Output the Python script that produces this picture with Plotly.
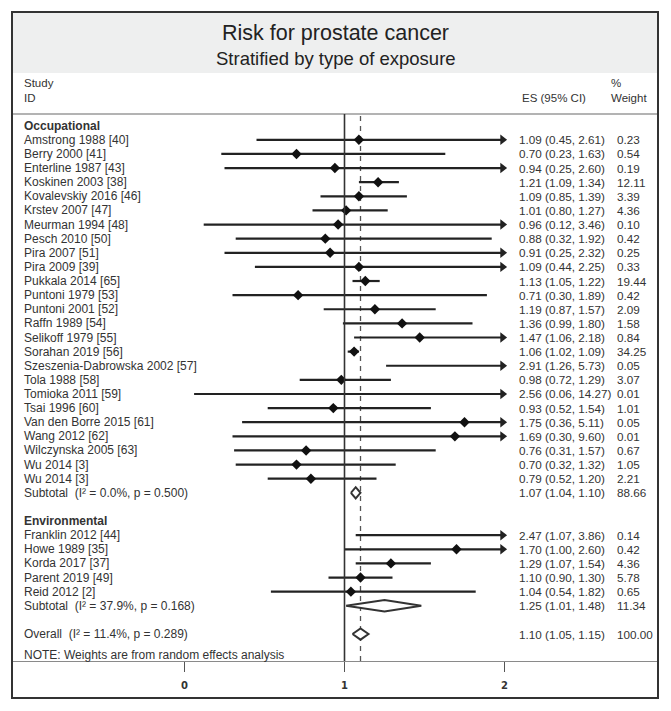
import plotly.graph_objects as go

# ---------------- data ----------------
title_main = "Risk for prostate cancer"
title_sub = "Stratified by type of exposure"

occ_studies = ["Amstrong 1988 [40]", "Berry 2000 [41]", "Enterline 1987 [43]", "Koskinen 2003 [38]",
               "Kovalevskiy 2016 [46]", "Krstev 2007 [47]", "Meurman 1994 [48]", "Pesch 2010 [50]",
               "Pira 2007 [51]", "Pira 2009 [39]", "Pukkala 2014 [65]", "Puntoni 1979 [53]",
               "Puntoni 2001 [52]", "Raffn 1989 [54]", "Selikoff 1979 [55]", "Sorahan 2019 [56]",
               "Szeszenia-Dabrowska 2002 [57]", "Tola 1988 [58]", "Tomioka 2011 [59]", "Tsai 1996 [60]",
               "Van den Borre 2015 [61]", "Wang 2012 [62]", "Wilczynska 2005 [63]", "Wu 2014 [3]", "Wu 2014 [3]"]
occ_es = [1.09, 0.70, 0.94, 1.21, 1.09, 1.01, 0.96, 0.88, 0.91, 1.09, 1.13, 0.71, 1.19, 1.36, 1.47,
          1.06, 2.91, 0.98, 2.56, 0.93, 1.75, 1.69, 0.76, 0.70, 0.79]
occ_lo = [0.45, 0.23, 0.25, 1.09, 0.85, 0.80, 0.12, 0.32, 0.25, 0.44, 1.05, 0.30, 0.87, 0.99, 1.06,
          1.02, 1.26, 0.72, 0.06, 0.52, 0.36, 0.30, 0.31, 0.32, 0.52]
occ_hi = [2.61, 1.63, 2.60, 1.34, 1.39, 1.27, 3.46, 1.92, 2.32, 2.25, 1.22, 1.89, 1.57, 1.80, 2.18,
          1.09, 5.73, 1.29, 14.27, 1.54, 5.11, 9.60, 1.57, 1.32, 1.20]
occ_w = [0.23, 0.54, 0.19, 12.11, 3.39, 4.36, 0.10, 0.42, 0.25, 0.33, 19.44, 0.42, 2.09, 1.58, 0.84,
         34.25, 0.05, 3.07, 0.01, 1.01, 0.05, 0.01, 0.67, 1.05, 2.21]
occ_sub = dict(es=1.07, lo=1.04, hi=1.10, w=88.66, i2="0.0%", p="0.500")

env_studies = ["Franklin 2012 [44]", "Howe 1989 [35]", "Korda 2017 [37]", "Parent 2019 [49]", "Reid 2012 [2]"]
env_es = [2.47, 1.70, 1.29, 1.10, 1.04]
env_lo = [1.07, 1.00, 1.07, 0.90, 0.54]
env_hi = [3.86, 2.60, 1.54, 1.30, 1.82]
env_w = [0.14, 0.42, 4.36, 5.78, 0.65]
env_sub = dict(es=1.25, lo=1.01, hi=1.48, w=11.34, i2="37.9%", p="0.168")

overall = dict(es=1.10, lo=1.05, hi=1.15, w=100.00, i2="11.4%", p="0.289")

x_ticks = [0, 1, 2]
x_tick_labels = ["0", "1", "2"]
axis_max = 2.0
note_text = "NOTE: Weights are from random effects analysis"

# ---------------- layout helpers ----------------
W, H = 671, 711
ML, MR, MT, MB = 12, 13, 114, 50
PW, PH = W - ML - MR, H - MT - MB
X0_PX, PX_PER_UNIT = 184.5, 160.0
xr = [(ML - X0_PX) / PX_PER_UNIT, (W - MR - X0_PX) / PX_PER_UNIT]
ROW0_PX, ROW_PX = 125.7, 14.12
yr = [(H - MB - ROW0_PX) / ROW_PX, (MT - ROW0_PX) / ROW_PX]


def px_x(px):
    return (px - ML) / PW


def px_y(py):
    return (H - MB - py) / PH


FONT = "Liberation Sans, Arial, sans-serif"
TXT = "#333333"
NBSP = "\u00a0"

# rows
rows = []  # (row, label, es, lo, hi, w, kind)
r = 0
rows.append((r, "<b>Occupational</b>", None, None, None, None, "head"))
for i, s in enumerate(occ_studies):
    r += 1
    rows.append((r, s, occ_es[i], occ_lo[i], occ_hi[i], occ_w[i], "study"))
r += 1
rows.append((r, f"Subtotal{NBSP}{NBSP}(I² = {occ_sub['i2']}, p = {occ_sub['p']})",
             occ_sub['es'], occ_sub['lo'], occ_sub['hi'], occ_sub['w'], "sub"))
r += 2
rows.append((r, "<b>Environmental</b>", None, None, None, None, "head"))
for i, s in enumerate(env_studies):
    r += 1
    rows.append((r, s, env_es[i], env_lo[i], env_hi[i], env_w[i], "study"))
r += 1
rows.append((r, f"Subtotal{NBSP}{NBSP}(I² = {env_sub['i2']}, p = {env_sub['p']})",
             env_sub['es'], env_sub['lo'], env_sub['hi'], env_sub['w'], "sub"))
r += 2
rows.append((r, f"Overall{NBSP}{NBSP}(I² = {overall['i2']}, p = {overall['p']})",
             overall['es'], overall['lo'], overall['hi'], overall['w'], "sub"))
note_row = r + 1.5

fig = go.Figure()

# CI lines
lx, ly = [], []
mx, my = [], []
ax_, ay_ = [], []
for (rr, lab, es, lo, hi, w, kind) in rows:
    if kind != "study":
        continue
    lx += [lo, min(hi, axis_max), None]
    ly += [rr, rr, None]
    if es <= axis_max:
        mx.append(es)
        my.append(rr)
    if hi > axis_max:
        ax_.append(axis_max - 0.012)
        ay_.append(rr)

fig.add_trace(go.Scatter(x=lx, y=ly, mode="lines", line=dict(color="#222222", width=2.2),
                         hoverinfo="skip"))
fig.add_trace(go.Scatter(x=ax_, y=ay_, mode="markers",
                         marker=dict(symbol="triangle-right", size=9, color="#222222"),
                         hoverinfo="skip"))
fig.add_trace(go.Scatter(x=mx, y=my, mode="markers",
                         marker=dict(symbol="diamond", size=8, color="#111111"),
                         hoverinfo="skip"))

# pooled diamonds
for (rr, lab, es, lo, hi, w, kind) in rows:
    if kind != "sub":
        continue
    h = 0.4
    fig.add_trace(go.Scatter(x=[lo, es, hi, es, lo], y=[rr, rr - h, rr, rr + h, rr],
                             mode="lines", fill="toself", fillcolor="white",
                             line=dict(color="#333333", width=2), hoverinfo="skip"))

# text annotations
ann = []
for (rr, lab, es, lo, hi, w, kind) in rows:
    ann.append(dict(x=px_x(22), y=rr, xref="paper", yref="y", text=lab, showarrow=False,
                    xanchor="left", yanchor="middle", font=dict(size=12, color=TXT, family=FONT)))
    if es is not None:
        ann.append(dict(x=px_x(516.5), y=rr, xref="paper", yref="y",
                        text=f"{es:.2f} ({lo:.2f}, {hi:.2f})", showarrow=False,
                        xanchor="left", yanchor="middle", font=dict(size=11.7, color=TXT, family=FONT)))
        ann.append(dict(x=px_x(615), y=rr, xref="paper", yref="y", text=f"{w:.2f}", showarrow=False,
                        xanchor="left", yanchor="middle", font=dict(size=11.7, color=TXT, family=FONT)))
ann.append(dict(x=px_x(22), y=note_row, xref="paper", yref="y", text=note_text, showarrow=False,
                xanchor="left", yanchor="middle", font=dict(size=12, color=TXT, family=FONT)))

# header texts
for txt, xp, yp, anc in [("Study", 22, 83, "left"), ("ID", 22, 98.5, "left"),
                          ("ES (95% CI)", 520, 98.5, "left"), ("%", 609, 83, "left"),
                          ("Weight", 609, 98.5, "left")]:
    ann.append(dict(x=px_x(xp), y=px_y(yp), xref="paper", yref="paper", text=txt, showarrow=False,
                    xanchor=anc, yanchor="middle", font=dict(size=11.5, color=TXT, family=FONT)))

ann.append(dict(x=px_x(335.5), y=px_y(33), xref="paper", yref="paper", text=title_main, showarrow=False,
                xanchor="center", yanchor="middle", font=dict(size=21.5, color="#222222", family=FONT)))
ann.append(dict(x=px_x(336), y=px_y(58), xref="paper", yref="paper", text=title_sub, showarrow=False,
                xanchor="center", yanchor="middle", font=dict(size=18.5, color="#222222", family=FONT)))

shapes = [
    # title band
    dict(type="rect", xref="paper", yref="paper", x0=0, x1=1, y0=px_y(73), y1=px_y(12),
         fillcolor="#eeefef", line=dict(width=0), layer="below"),
    # header separator line
    dict(type="line", xref="paper", yref="paper", x0=0, x1=1, y0=px_y(114), y1=px_y(114),
         line=dict(color="#9a9a9a", width=1.5)),
    # null line
    dict(type="line", xref="x", yref="paper", x0=1, x1=1, y0=0, y1=1,
         line=dict(color="#333333", width=1.6)),
    # overall effect dashed line
    dict(type="line", xref="x", yref="paper", x0=overall['es'], x1=overall['es'], y0=0, y1=1,
         line=dict(color="#555555", width=1.3, dash="5px,5px"), layer="below"),
    # outer border
    dict(type="rect", xref="paper", yref="paper", x0=0, x1=1, y0=px_y(698), y1=px_y(12),
         line=dict(color="#333333", width=2)),
]

fig.update_layout(
    width=W, height=H,
    margin=dict(l=ML, r=MR, t=MT, b=MB),
    paper_bgcolor="white", plot_bgcolor="white",
    showlegend=False,
    annotations=ann, shapes=shapes,
    xaxis=dict(range=xr, tickvals=x_ticks, ticktext=x_tick_labels, ticks="outside", ticklen=10,
               tickwidth=1.2, tickcolor="#555555", showline=True, linecolor="#8a8a8a", linewidth=1.2,
               showgrid=False, zeroline=False, ticklabelstandoff=5,
               tickfont=dict(size=10, color="#333333", family="DejaVu Sans", weight="bold"),
               fixedrange=True),
    yaxis=dict(range=yr, showticklabels=False, showgrid=False, zeroline=False, showline=False,
               ticks="", fixedrange=True),
)

fig.write_html("out.html", config={"displayModeBar": False},
               post_script="document.body.style.margin='0';document.body.style.overflow='hidden';")
